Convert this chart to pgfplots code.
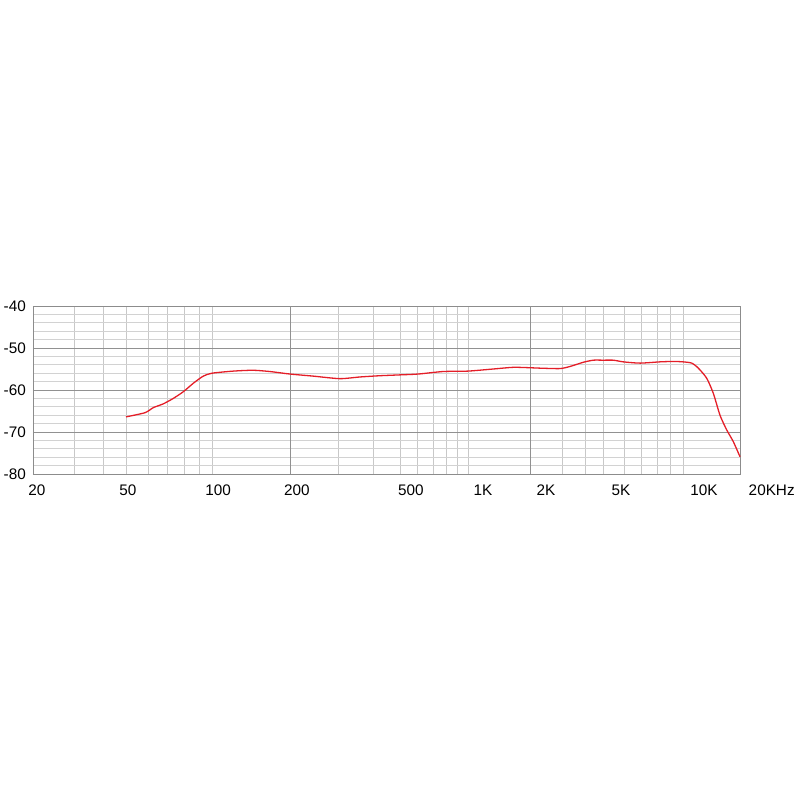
\documentclass[border=0pt]{standalone}
\usepackage{fontspec}
\setmainfont{Liberation Sans}
\usepackage{pgfplots}
\pgfplotsset{compat=1.18}
\definecolor{curve}{RGB}{228,30,40}
\definecolor{gridmajor}{RGB}{145,145,145}
\definecolor{gridminor}{RGB}{210,210,210}
\definecolor{gridvminor}{RGB}{200,200,200}
\definecolor{framec}{RGB}{140,140,140}
% position of a frequency along the chart's (hand drawn) log scale
\newcommand\freqpos[1]{\fpeval{round(
 (#1) < 50 ? 93*ln((#1)/20)/ln(2.5) :
 ((#1) < 100 ? 93+86*ln((#1)/50)/ln(2) :
 ((#1) < 200 ? 179+78*ln((#1)/100)/ln(2) :
 ((#1) < 500 ? 257+110*ln((#1)/200)/ln(2.5) :
 ((#1) < 1000 ? 367+68*ln((#1)/500)/ln(2) :
 ((#1) < 2000 ? 435+62*ln((#1)/1000)/ln(2) :
 ((#1) < 5000 ? 497+73*ln((#1)/2000)/ln(2.5) :
 ((#1) < 10000 ? 570+80*ln((#1)/5000)/ln(2) :
 650+57*ln((#1)/10000)/ln(2)))))))),4)}}
\pgfplotstableread{
f db
50 -66.4
58.3 -65.4
62.3 -64.2
67.5 -63.3
73.2 -62.0
79.4 -60.4
86 -58.4
93.2 -56.7
100 -56.0
121 -55.5
144 -55.3
167 -55.6
200 -56.2
243 -56.7
303 -57.3
358 -56.9
423 -56.6
500 -56.4
602 -56.2
777 -55.6
1000 -55.5
1327 -55.0
1660 -54.6
2000 -54.7
2267 -54.8
2914 -54.9
3304 -54.4
3905 -53.4
4427 -52.9
5000 -52.9
5467 -52.9
5962 -53.3
6890 -53.6
8194 -53.3
9194 -53.2
10000 -53.3
11120 -53.6
12050 -54.8
13340 -57.2
14460 -60.8
15680 -66.0
17010 -69.5
18440 -72.3
20000 -75.9
}\response
\pgfplotsset{chartbase/.style={
  at={(0,0)}, anchor=south west,
  scale only axis, width=707pt, height=168pt,
  x coord trafo/.code={\edef\pgfmathresult{\freqpos{##1}}},
  xmin=20, xmax=20000, ymin=-80, ymax=-40,
  enlargelimits=false,
  major tick length=0pt, minor tick length=0pt,
  tick label style={font=\fontsize{15.3}{18}\selectfont, text=black},
  xticklabel style={anchor=north, inner sep=0pt, yshift=-11pt},
  yticklabel style={anchor=east, inner sep=0pt, xshift=-7pt},
}}
\begin{document}
\begin{tikzpicture}[x=1pt,y=1pt]
\begin{axis}[
  chartbase, name=main,
  axis line style={draw=framec, line width=0.8pt},
  xtick={20.8,50.8,105.5,212,559.3,1182.6,2444.9,5844,12910},
  xticklabels={20,50,100,200,500,1K,2K,5K,10K},
  minor xtick={30,40,50,60,70,80,90,100,300,400,500,600,700,800,900,1000,3000,4000,5000,6000,7000,8000,9000,10000},
  extra x ticks={200,2000},
  extra x tick labels={},
  extra x tick style={xmajorgrids=true, major grid style={draw=gridmajor, line width=0.8pt}, x grid style={draw=gridmajor, line width=0.8pt}},
  ytick={-80,-70,-60,-50,-40},
  yticklabels={-80,-70,-60,-50,-40},
  minor y tick num=4,
  xmajorgrids=false, xminorgrids=true,
  ymajorgrids=true, yminorgrids=true,
  major grid style={draw=gridmajor, line width=0.8pt},
  minor grid style={draw=gridminor, line width=0.8pt},
  x grid style={draw=gridvminor},
  clip=false,
]
\addplot[curve, line width=1.3pt, smooth, tension=0.4] table[x=f, y=db] {\response};
\end{axis}
\begin{axis}[
  chartbase,
  axis line style={draw=none},
  xtick={20000}, xticklabels={20KHz},
  ytick=\empty,
  xticklabel style={xshift=31.7pt},
]
\end{axis}
\pgfresetboundingbox
\path[use as bounding box] (main.south west) ++(-33,-326) rectangle ++(800,800);
\end{tikzpicture}
\end{document}
